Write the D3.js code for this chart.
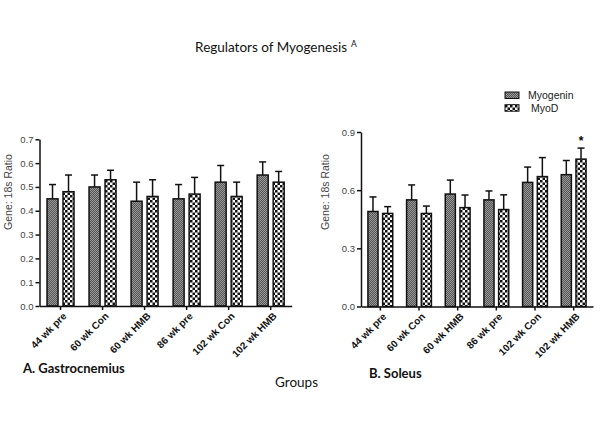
<!DOCTYPE html>
<html><head><meta charset="utf-8">
<script src="https://cdn.jsdelivr.net/npm/d3@7"></script>
<style>body{margin:0;background:#fff}svg{display:block}</style>
</head><body>
<svg id="c" width="600" height="424"></svg>
<script>
const groups = ["44 wk pre","60 wk Con","60 wk HMB","86 wk pre","102 wk Con","102 wk HMB"];
const series = ["Myogenin","MyoD"];
const gastroMyogenin = [0.45,0.50,0.44,0.45,0.52,0.55];
const gastroMyogeninErr = [0.06,0.05,0.08,0.06,0.07,0.055];
const gastroMyoD = [0.48,0.53,0.46,0.47,0.46,0.52];
const gastroMyoDErr = [0.07,0.04,0.07,0.07,0.06,0.045];
const soleusMyogenin = [0.49,0.55,0.58,0.55,0.64,0.68];
const soleusMyogeninErr = [0.075,0.077,0.072,0.046,0.079,0.073];
const soleusMyoD = [0.48,0.48,0.51,0.50,0.67,0.76];
const soleusMyoDErr = [0.035,0.038,0.065,0.076,0.098,0.057];
const gastroTicks = [0,0.1,0.2,0.3,0.4,0.5,0.6,0.7];
const soleusTicks = [0,0.3,0.6,0.9];
const soleusStars = ["","","","","","*"];

const ARIAL = "'Liberation Sans', Arial, sans-serif";
const CAL = "Lato, 'Open Sans', sans-serif";
const svg = d3.select("#c");
const defs = svg.append("defs");
const p1 = defs.append("pattern").attr("id","pMyogenin").attr("width",2).attr("height",2).attr("patternUnits","userSpaceOnUse");
p1.append("rect").attr("width",2).attr("height",2).attr("fill","#555");
p1.append("rect").attr("width",1).attr("height",1).attr("fill","#999");
p1.append("rect").attr("x",1).attr("y",1).attr("width",1).attr("height",1).attr("fill","#999");
const p2 = defs.append("pattern").attr("id","pMyoD").attr("width",5).attr("height",5).attr("patternUnits","userSpaceOnUse");
p2.append("rect").attr("width",5).attr("height",5).attr("fill","#fff");
p2.append("rect").attr("width",2.5).attr("height",2.5).attr("fill","#111");
p2.append("rect").attr("x",2.5).attr("y",2.5).attr("width",2.5).attr("height",2.5).attr("fill","#111");
const fills = {Myogenin:"url(#pMyogenin)", MyoD:"url(#pMyoD)"};

svg.append("text").attr("x",276).attr("y",52).attr("text-anchor","middle")
  .style("font-family",CAL).attr("font-size",13.5).attr("fill","#111")
  .text("Regulators of Myogenesis").append("tspan").attr("dx",4).attr("dy",-5).attr("font-size",8.5).text("A");

function panel(opts){
  const x = d3.scaleBand().domain(groups).range([opts.x0,opts.x1]).padding(0);
  const xs = d3.scaleBand().domain(series).range([x.bandwidth()*0.179, x.bandwidth()*0.821]).paddingInner(0.3125).paddingOuter(0);
  const y = d3.scaleLinear().domain([0,opts.max]).range([opts.y0,opts.y1]);
  const g = svg.append("g");
  const data = [];
  groups.forEach((gr,i)=>{
    data.push({g:gr,s:"Myogenin",v:opts.a[i],e:opts.ae[i]});
    data.push({g:gr,s:"MyoD",v:opts.b[i],e:opts.be[i]});
  });
  const cx = d=>x(d.g)+xs(d.s)+xs.bandwidth()/2;
  const eb = g.selectAll(".eb").data(data).join("g");
  eb.append("line").attr("x1",cx).attr("x2",cx)
    .attr("y1",d=>y(d.v)).attr("y2",d=>y(d.v+d.e)).attr("stroke","#111").attr("stroke-width",1.5);
  eb.append("line").attr("x1",d=>cx(d)-3.5).attr("x2",d=>cx(d)+3.5)
    .attr("y1",d=>y(d.v+d.e)).attr("y2",d=>y(d.v+d.e)).attr("stroke","#111").attr("stroke-width",1.5);
  g.selectAll(".bar").data(data).join("rect")
    .attr("x",d=>x(d.g)+xs(d.s)).attr("width",xs.bandwidth())
    .attr("y",d=>y(d.v)).attr("height",d=>y(0)-y(d.v))
    .attr("fill",d=>fills[d.s]).attr("stroke","#111").attr("stroke-width",1.5);
  if(opts.stars){
    g.selectAll(".star").data(data.filter(d=>d.s==="MyoD" && opts.stars[groups.indexOf(d.g)])).join("text")
      .attr("x",cx).attr("y",d=>y(d.v+d.e)-3)
      .attr("text-anchor","middle").style("font-family",ARIAL).attr("font-size",12).attr("font-weight","bold")
      .text(d=>opts.stars[groups.indexOf(d.g)]);
  }
  const ya = g.append("g").attr("transform",`translate(${opts.x0},0)`)
    .call(d3.axisLeft(y).tickValues(opts.ticks).tickFormat(d3.format(".1f")).tickSize(4).tickSizeOuter(0));
  ya.attr("font-family",null);
  ya.select(".domain").attr("stroke","#111").attr("stroke-width",1.5);
  ya.selectAll(".tick line").attr("stroke","#111").attr("stroke-width",1.5);
  ya.selectAll(".tick text").style("font-family",ARIAL).attr("font-size",9.5).attr("fill","#444").attr("dx",1);
  const xa = g.append("g").attr("transform",`translate(0,${opts.y0})`)
    .call(d3.axisBottom(x).tickSize(4).tickSizeOuter(0));
  xa.attr("font-family",null);
  xa.select(".domain").attr("stroke","#111").attr("stroke-width",1.5);
  xa.selectAll(".tick line").attr("stroke","#111").attr("stroke-width",1.5);
  xa.selectAll(".tick text").style("font-family",ARIAL).attr("font-size",10).attr("font-weight","bold").attr("fill","#111")
    .attr("text-anchor","end").attr("transform","translate(0,4) rotate(-45)").attr("dy","0.75em").attr("y",2);
  svg.append("text").attr("transform",`translate(${opts.ylx},192) rotate(-90)`).attr("text-anchor","middle").attr("dy","0.35em")
    .style("font-family",ARIAL).attr("font-size",10.5).attr("fill","#444").text("Gene: 18s Ratio");
}

panel({x0:39.5,x1:291.7,y0:306,y1:139.3,max:0.7,ticks:gastroTicks,a:gastroMyogenin,ae:gastroMyogeninErr,b:gastroMyoD,be:gastroMyoDErr,ylx:8});
panel({x0:361,x1:593,y0:306.5,y1:132,max:0.9,ticks:soleusTicks,a:soleusMyogenin,ae:soleusMyogeninErr,b:soleusMyoD,be:soleusMyoDErr,ylx:325,stars:soleusStars});

const leg = svg.append("g");
series.forEach((s,i)=>{
  leg.append("rect").attr("x",505).attr("y",92+i*12.7).attr("width",14).attr("height",6.5).attr("fill",fills[s]).attr("stroke","#111").attr("stroke-width",1);
  leg.append("text").attr("x",i===0?528:531).attr("y",95.5+i*12.7).attr("dy","0.35em")
    .style("font-family",ARIAL).attr("font-size",10.5).attr("fill","#222").text(s);
});

svg.append("text").attr("x",23).attr("y",373).style("font-family",CAL).attr("font-weight","bold").attr("font-size",13).attr("fill","#111").text("A. Gastrocnemius");
svg.append("text").attr("x",369).attr("y",378).style("font-family",CAL).attr("font-weight","bold").attr("font-size",13).attr("fill","#111").text("B.  Soleus");
svg.append("text").attr("x",275).attr("y",387).style("font-family",CAL).attr("font-size",13.5).attr("fill","#111").text("Groups");
</script>
</body></html>
